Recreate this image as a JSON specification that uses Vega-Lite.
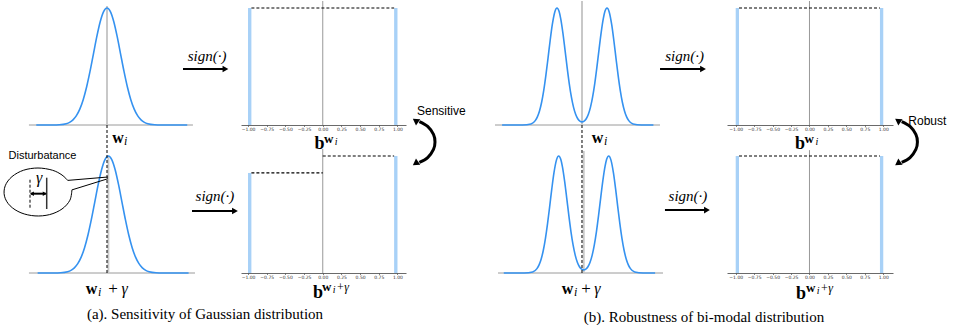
{
"$schema": "https://vega.github.io/schema/vega-lite/v6.json",
"padding": 0,
"autosize": {"type": "pad"},
"background": "white",
"config": {"view": {"stroke": null}, "axis": {"labelFontSize": 4.5, "labelFont": "DejaVu Sans", "labelColor": "#333", "tickSize": 1.5, "tickWidth": 0.6, "tickColor": "#333", "domainColor": "#444", "domainWidth": 0.8, "labelPadding": 0, "grid": false, "labelFlush": false, "labelOverlap": false}},
"datasets": {
"gauss": [{"x":-5.2,"y":0},{"x":-4.5,"y":0.00004},{"x":-4,"y":0.0003},{"x":-3.5,"y":0.0022},{"x":-3,"y":0.0111},{"x":-2.75,"y":0.0228},{"x":-2.5,"y":0.0439},{"x":-2.25,"y":0.0796},{"x":-2,"y":0.1353},{"x":-1.75,"y":0.2163},{"x":-1.5,"y":0.3247},{"x":-1.25,"y":0.4578},{"x":-1,"y":0.6065},{"x":-0.75,"y":0.7548},{"x":-0.5,"y":0.8825},{"x":-0.25,"y":0.9692},{"x":0,"y":1},{"x":0.25,"y":0.9692},{"x":0.5,"y":0.8825},{"x":0.75,"y":0.7548},{"x":1,"y":0.6065},{"x":1.25,"y":0.4578},{"x":1.5,"y":0.3247},{"x":1.75,"y":0.2163},{"x":2,"y":0.1353},{"x":2.25,"y":0.0796},{"x":2.5,"y":0.0439},{"x":2.75,"y":0.0228},{"x":3,"y":0.0111},{"x":3.5,"y":0.0022},{"x":4,"y":0.0003},{"x":4.5,"y":0.00004},{"x":5.2,"y":0},{"x":5.9,"y":0}],
"bimodal": [{"x":-9.4,"y":0},{"x":-8,"y":0},{"x":-7,"y":0.0003},{"x":-6,"y":0.0093},{"x":-5.5,"y":0.0377},{"x":-5.25,"y":0.0694},{"x":-5,"y":0.1198},{"x":-4.75,"y":0.1944},{"x":-4.5,"y":0.2962},{"x":-4.25,"y":0.424},{"x":-4,"y":0.5702},{"x":-3.75,"y":0.7204},{"x":-3.5,"y":0.8549},{"x":-3.2,"y":0.9668},{"x":-2.94,"y":1},{"x":-2.7,"y":0.9716},{"x":-2.5,"y":0.9077},{"x":-2.25,"y":0.788},{"x":-2,"y":0.6429},{"x":-1.75,"y":0.4926},{"x":-1.5,"y":0.3546},{"x":-1.25,"y":0.2398},{"x":-1,"y":0.1527},{"x":-0.75,"y":0.092},{"x":-0.5,"y":0.0536},{"x":-0.25,"y":0.033},{"x":0,"y":0.0266},{"x":0.25,"y":0.033},{"x":0.5,"y":0.0536},{"x":0.75,"y":0.092},{"x":1,"y":0.1527},{"x":1.25,"y":0.2398},{"x":1.5,"y":0.3546},{"x":1.75,"y":0.4926},{"x":2,"y":0.6429},{"x":2.25,"y":0.788},{"x":2.5,"y":0.9077},{"x":2.7,"y":0.9716},{"x":2.94,"y":1},{"x":3.2,"y":0.9668},{"x":3.5,"y":0.8549},{"x":3.75,"y":0.7204},{"x":4,"y":0.5702},{"x":4.25,"y":0.424},{"x":4.5,"y":0.2962},{"x":4.75,"y":0.1944},{"x":5,"y":0.1198},{"x":5.25,"y":0.0694},{"x":5.5,"y":0.0377},{"x":6,"y":0.0093},{"x":7,"y":0.0003},{"x":8,"y":0},{"x":8.4,"y":0}]
},
"columns": 4,
"align": "each",
"bounds": "flush",
"spacing": {"row": 4, "column": 0},
"concat": [
{"width": 241, "height": 124,
 "encoding": {"x": {"field":"x","type":"quantitative","scale":{"domain":[-7.868,9.853],"nice":false,"zero":false},"axis":null},
              "y": {"field":"y","type":"quantitative","scale":{"domain":[0,1.06],"nice":false,"zero":false},"axis":null}},
 "layer": [
  {"data":{"values":[{"x":-5.74,"y":0,"x2":6.32,"y2":0}]},"mark":{"type":"rule","color":"#9a9a9a","strokeWidth":1},"encoding":{"x2":{"field":"x2"},"y2":{"field":"y2"}}},
  {"data":{"values":[{"x":0,"y":0,"x2":0,"y2":1.017}]},"mark":{"type":"rule","color":"#c8c8c8","strokeWidth":2},"encoding":{"x2":{"field":"x2"},"y2":{"field":"y2"}}},
  {"data":{"name":"gauss"},"mark":{"type":"line","color":"#3592f0","strokeWidth":1.6,"interpolate":"monotone"}},
  {"data":{"values":[{"x":0,"y":0,"x2":0,"y2":-0.205}]},"mark":{"type":"rule","color":"#000","strokeWidth":1,"strokeDash":[3,2]},"encoding":{"x2":{"field":"x2"},"y2":{"field":"y2"}}},
  {"data":{"values":[{"x":5.588,"y":0.4786,"x2":8.71,"y2":0.4786}]},"mark":{"type":"rule","color":"#000","strokeWidth":2},"encoding":{"x2":{"field":"x2"},"y2":{"field":"y2"}}},
  {"data":{"values":[{"x":8.71,"y":0.4786}]},"mark":{"type":"point","shape":"triangle-right","filled":true,"color":"#000","size":45,"opacity":1}},
  {"data":{"values":[{"x":7.353,"y":0.547,"t":"sign(·)"}]},"mark":{"type":"text","font":"Liberation Serif","fontStyle":"italic","fontSize":15,"align":"center","baseline":"alphabetic","color":"#000"},"encoding":{"text":{"field":"t"}}},
  {"data":{"values":[{"x":0.81,"y":-0.154,"t":"w"}]},"mark":{"type":"text","font":"Liberation Serif","fontWeight":"bold","fontSize":16,"align":"center","baseline":"alphabetic","color":"#000"},"encoding":{"text":{"field":"t"}}},
  {"data":{"values":[{"x":1.25,"y":-0.175,"t":"i"}]},"mark":{"type":"text","font":"Liberation Serif","fontStyle":"italic","fontSize":12,"align":"left","baseline":"alphabetic","color":"#000"},"encoding":{"text":{"field":"t"}}}
 ]},
{"width": 165, "height": 124,
 "encoding": {"x": {"field":"x","type":"quantitative","scale":{"domain":[-1.094,1.114],"nice":false,"zero":false},
                    "axis":{"values":[-1,-0.75,-0.5,-0.25,0,0.25,0.5,0.75,1],"labelExpr":"replace(format(datum.value,'.2f'),'-','−')","title":null}},
              "y": {"field":"y","type":"quantitative","scale":{"domain":[0,1.06],"nice":false,"zero":false},"axis":null}},
 "layer": [
  {"data":{"values":[{"x":-1,"x2":-0.955,"y":1,"y2":0},{"x":0.955,"x2":1,"y":1,"y2":0}]},"mark":{"type":"rect","color":"#a8d1f7"},"encoding":{"x2":{"field":"x2"},"y2":{"field":"y2"}}},
  {"data":{"values":[{"x":0,"y":0,"x2":0,"y2":1.06}]},"mark":{"type":"rule","color":"#999","strokeWidth":1},"encoding":{"x2":{"field":"x2"},"y2":{"field":"y2"}}},
  {"data":{"values":[{"x":-0.955,"y":1,"x2":0.955,"y2":1}]},"mark":{"type":"rule","color":"#000","strokeWidth":1.2,"strokeDash":[3,2]},"encoding":{"x2":{"field":"x2"},"y2":{"field":"y2"}}},
  {"data":{"values":[{"x":1.293,"y":0.029,"o":1},{"x":1.404,"y":-0.012,"o":2},{"x":1.482,"y":-0.081,"o":3},{"x":1.502,"y":-0.145,"o":4},{"x":1.482,"y":-0.209,"o":5},{"x":1.404,"y":-0.279,"o":6},{"x":1.293,"y":-0.32,"o":7}]},"mark":{"type":"line","color":"#000","strokeWidth":3,"interpolate":"cardinal"},"encoding":{"order":{"field":"o","type":"quantitative"}}},
  {"data":{"values":[{"x":1.241,"y":0.038}]},"mark":{"type":"point","shape":"triangle-left","angle":35,"filled":true,"color":"#000","size":55,"opacity":1}},
  {"data":{"values":[{"x":1.241,"y":-0.329}]},"mark":{"type":"point","shape":"triangle-left","angle":-35,"filled":true,"color":"#000","size":55,"opacity":1}},
  {"data":{"values":[{"x":1.261,"y":0.085,"t":"Sensitive"}]},"mark":{"type":"text","font":"Liberation Sans","fontSize":12,"align":"left","baseline":"alphabetic","color":"#000"},"encoding":{"text":{"field":"t"}}},
  {"data":{"values":[{"x":-0.043,"y":-0.207,"t":"b"}]},"mark":{"type":"text","font":"Liberation Serif","fontWeight":"bold","fontSize":18,"align":"center","baseline":"alphabetic","color":"#000"},"encoding":{"text":{"field":"t"}}},
  {"data":{"values":[{"x":0.017,"y":-0.153,"t":"w"}]},"mark":{"type":"text","font":"Liberation Serif","fontWeight":"bold","fontSize":13,"align":"left","baseline":"alphabetic","color":"#000"},"encoding":{"text":{"field":"t"}}},
  {"data":{"values":[{"x":0.16,"y":-0.167,"t":"i"}]},"mark":{"type":"text","font":"Liberation Serif","fontStyle":"italic","fontSize":10,"align":"left","baseline":"alphabetic","color":"#000"},"encoding":{"text":{"field":"t"}}}
 ]},
{"width": 321, "height": 124,
 "encoding": {"x": {"field":"x","type":"quantitative","scale":{"domain":[-20.706,17.059],"nice":false,"zero":false},"axis":null},
              "y": {"field":"y","type":"quantitative","scale":{"domain":[0,1.06],"nice":false,"zero":false},"axis":null}},
 "layer": [
  {"data":{"values":[{"x":-10.235,"y":0,"x2":9.176,"y2":0}]},"mark":{"type":"rule","color":"#9a9a9a","strokeWidth":1},"encoding":{"x2":{"field":"x2"},"y2":{"field":"y2"}}},
  {"data":{"values":[{"x":0,"y":0,"x2":0,"y2":1.06}]},"mark":{"type":"rule","color":"#c8c8c8","strokeWidth":2},"encoding":{"x2":{"field":"x2"},"y2":{"field":"y2"}}},
  {"data":{"name":"bimodal"},"mark":{"type":"line","color":"#3592f0","strokeWidth":1.6,"interpolate":"monotone"}},
  {"data":{"values":[{"x":0,"y":0,"x2":0,"y2":-0.205}]},"mark":{"type":"rule","color":"#000","strokeWidth":1,"strokeDash":[3,2]},"encoding":{"x2":{"field":"x2"},"y2":{"field":"y2"}}},
  {"data":{"values":[{"x":9.18,"y":0.4786,"x2":14.24,"y2":0.4786}]},"mark":{"type":"rule","color":"#000","strokeWidth":2},"encoding":{"x2":{"field":"x2"},"y2":{"field":"y2"}}},
  {"data":{"values":[{"x":14.24,"y":0.4786}]},"mark":{"type":"point","shape":"triangle-right","filled":true,"color":"#000","size":45,"opacity":1}},
  {"data":{"values":[{"x":12.06,"y":0.547,"t":"sign(·)"}]},"mark":{"type":"text","font":"Liberation Serif","fontStyle":"italic","fontSize":15,"align":"center","baseline":"alphabetic","color":"#000"},"encoding":{"text":{"field":"t"}}},
  {"data":{"values":[{"x":1.82,"y":-0.154,"t":"w"}]},"mark":{"type":"text","font":"Liberation Serif","fontWeight":"bold","fontSize":16,"align":"center","baseline":"alphabetic","color":"#000"},"encoding":{"text":{"field":"t"}}},
  {"data":{"values":[{"x":2.59,"y":-0.175,"t":"i"}]},"mark":{"type":"text","font":"Liberation Serif","fontStyle":"italic","fontSize":12,"align":"left","baseline":"alphabetic","color":"#000"},"encoding":{"text":{"field":"t"}}}
 ]},
{"width": 166, "height": 124,
 "encoding": {"x": {"field":"x","type":"quantitative","scale":{"domain":[-1.118,1.132],"nice":false,"zero":false},
                    "axis":{"values":[-1,-0.75,-0.5,-0.25,0,0.25,0.5,0.75,1],"labelExpr":"replace(format(datum.value,'.2f'),'-','−')","title":null}},
              "y": {"field":"y","type":"quantitative","scale":{"domain":[0,1.06],"nice":false,"zero":false},"axis":null}},
 "layer": [
  {"data":{"values":[{"x":-1,"x2":-0.955,"y":1,"y2":0},{"x":0.955,"x2":1,"y":1,"y2":0}]},"mark":{"type":"rect","color":"#a8d1f7"},"encoding":{"x2":{"field":"x2"},"y2":{"field":"y2"}}},
  {"data":{"values":[{"x":0,"y":0,"x2":0,"y2":1.06}]},"mark":{"type":"rule","color":"#999","strokeWidth":1},"encoding":{"x2":{"field":"x2"},"y2":{"field":"y2"}}},
  {"data":{"values":[{"x":-0.955,"y":1,"x2":0.955,"y2":1}]},"mark":{"type":"rule","color":"#000","strokeWidth":1.2,"strokeDash":[3,2]},"encoding":{"x2":{"field":"x2"},"y2":{"field":"y2"}}},
  {"data":{"values":[{"x":1.25,"y":0.029,"o":1},{"x":1.363,"y":-0.012,"o":2},{"x":1.442,"y":-0.081,"o":3},{"x":1.463,"y":-0.145,"o":4},{"x":1.442,"y":-0.209,"o":5},{"x":1.363,"y":-0.279,"o":6},{"x":1.25,"y":-0.32,"o":7}]},"mark":{"type":"line","color":"#000","strokeWidth":3,"interpolate":"cardinal"},"encoding":{"order":{"field":"o","type":"quantitative"}}},
  {"data":{"values":[{"x":1.197,"y":0.038}]},"mark":{"type":"point","shape":"triangle-left","angle":35,"filled":true,"color":"#000","size":55,"opacity":1}},
  {"data":{"values":[{"x":1.197,"y":-0.329}]},"mark":{"type":"point","shape":"triangle-left","angle":-35,"filled":true,"color":"#000","size":55,"opacity":1}},
  {"data":{"values":[{"x":1.34,"y":0.0,"t":"Robust"}]},"mark":{"type":"text","font":"Liberation Sans","fontSize":12,"align":"left","baseline":"alphabetic","color":"#000"},"encoding":{"text":{"field":"t"}}},
  {"data":{"values":[{"x":-0.129,"y":-0.207,"t":"b"}]},"mark":{"type":"text","font":"Liberation Serif","fontWeight":"bold","fontSize":18,"align":"center","baseline":"alphabetic","color":"#000"},"encoding":{"text":{"field":"t"}}},
  {"data":{"values":[{"x":-0.068,"y":-0.153,"t":"w"}]},"mark":{"type":"text","font":"Liberation Serif","fontWeight":"bold","fontSize":13,"align":"left","baseline":"alphabetic","color":"#000"},"encoding":{"text":{"field":"t"}}},
  {"data":{"values":[{"x":0.08,"y":-0.167,"t":"i"}]},"mark":{"type":"text","font":"Liberation Serif","fontStyle":"italic","fontSize":10,"align":"left","baseline":"alphabetic","color":"#000"},"encoding":{"text":{"field":"t"}}}
 ]},
{"width": 241, "height": 144,
 "encoding": {"x": {"field":"x","type":"quantitative","scale":{"domain":[-7.968,9.753],"nice":false,"zero":false},"axis":null},
              "y": {"field":"y","type":"quantitative","scale":{"domain":[0,1.2308],"nice":false,"zero":false},"axis":null}},
 "layer": [
  {"data":{"values":[{"x":-5.84,"y":0,"x2":6.37,"y2":0}]},"mark":{"type":"rule","color":"#9a9a9a","strokeWidth":1},"encoding":{"x2":{"field":"x2"},"y2":{"field":"y2"}}},
  {"data":{"values":[{"x":0,"y":0,"x2":0,"y2":1.0}]},"mark":{"type":"rule","color":"#c8c8c8","strokeWidth":2},"encoding":{"x2":{"field":"x2"},"y2":{"field":"y2"}}},
  {"data":{"name":"gauss"},"mark":{"type":"line","color":"#3592f0","strokeWidth":1.6,"interpolate":"monotone"}},
  {"data":{"values":[{"x":-0.1,"y":0,"x2":-0.1,"y2":1.06},{"x":-5.762,"y":0.558,"x2":-5.762,"y2":0.8145}]},"mark":{"type":"rule","color":"#000","strokeWidth":1,"strokeDash":[3,2]},"encoding":{"x2":{"field":"x2"},"y2":{"field":"y2"}}},
  {"data":{"values":[{"o":1,"x":-2.681,"y":0.7103},{"o":2,"x":-2.828,"y":0.6222},{"o":3,"x":-3.409,"y":0.547},{"o":4,"x":-4.321,"y":0.4991},{"o":5,"x":-5.394,"y":0.488},{"o":6,"x":-6.424,"y":0.5145},{"o":7,"x":-7.225,"y":0.5744},{"o":8,"x":-7.637,"y":0.6564},{"o":9,"x":-7.585,"y":0.7453},{"o":10,"x":-7.085,"y":0.8239},{"o":11,"x":-6.232,"y":0.8786},{"o":12,"x":-5.174,"y":0.8974},{"o":13,"x":-4.115,"y":0.8786},{"o":14,"x":-3.409,"y":0.8376},{"o":15,"x":-2.99,"y":0.7915}]},"mark":{"type":"line","color":"#000","strokeWidth":1,"interpolate":"cardinal"},"encoding":{"order":{"field":"o","type":"quantitative"}}},
  {"data":{"values":[{"x":-2.99,"y":0.7915,"x2":-0.03,"y2":0.8205},{"x":-2.681,"y":0.7103,"x2":-0.03,"y2":0.806}]},"mark":{"type":"rule","color":"#000","strokeWidth":1},"encoding":{"x2":{"field":"x2"},"y2":{"field":"y2"}}},
  {"data":{"values":[{"x":-4.534,"y":0.547,"x2":-4.534,"y2":0.8145}]},"mark":{"type":"rule","color":"#333","strokeWidth":1.5},"encoding":{"x2":{"field":"x2"},"y2":{"field":"y2"}}},
  {"data":{"values":[{"x":-5.7,"y":0.678,"x2":-4.6,"y2":0.678},{"x":6.15,"y":0.53,"x2":9.31,"y2":0.53}]},"mark":{"type":"rule","color":"#000","strokeWidth":2},"encoding":{"x2":{"field":"x2"},"y2":{"field":"y2"}}},
  {"data":{"values":[{"x":-5.62,"y":0.678}]},"mark":{"type":"point","shape":"triangle-left","filled":true,"color":"#000","size":20,"opacity":1}},
  {"data":{"values":[{"x":-4.68,"y":0.678}]},"mark":{"type":"point","shape":"triangle-right","filled":true,"color":"#000","size":20,"opacity":1}},
  {"data":{"values":[{"x":9.31,"y":0.53}]},"mark":{"type":"point","shape":"triangle-right","filled":true,"color":"#000","size":45,"opacity":1}},
  {"data":{"values":[{"x":7.84,"y":0.615,"t":"sign(·)"}]},"mark":{"type":"text","font":"Liberation Serif","fontStyle":"italic","fontSize":15,"align":"center","baseline":"alphabetic","color":"#000"},"encoding":{"text":{"field":"t"}}},
  {"data":{"values":[{"x":-5.08,"y":0.769,"t":"γ"},{"x":1.2,"y":-0.179,"t":"γ"}]},"mark":{"type":"text","font":"Liberation Serif","fontStyle":"italic","fontSize":16,"align":"center","baseline":"alphabetic","color":"#000"},"encoding":{"text":{"field":"t"}}},
  {"data":{"values":[{"x":-4.843,"y":0.974,"t":"Disturbatance"}]},"mark":{"type":"text","font":"Liberation Sans","fontSize":11,"align":"center","baseline":"alphabetic","color":"#000"},"encoding":{"text":{"field":"t"}}},
  {"data":{"values":[{"x":-1.24,"y":-0.179,"t":"w"}]},"mark":{"type":"text","font":"Liberation Serif","fontWeight":"bold","fontSize":16,"align":"center","baseline":"alphabetic","color":"#000"},"encoding":{"text":{"field":"t"}}},
  {"data":{"values":[{"x":-0.76,"y":-0.197,"t":"i"}]},"mark":{"type":"text","font":"Liberation Serif","fontStyle":"italic","fontSize":12,"align":"left","baseline":"alphabetic","color":"#000"},"encoding":{"text":{"field":"t"}}},
  {"data":{"values":[{"x":0.341,"y":-0.179,"t":"+"}]},"mark":{"type":"text","font":"Liberation Serif","fontSize":17,"align":"center","baseline":"alphabetic","color":"#000"},"encoding":{"text":{"field":"t"}}},
  {"data":{"values":[{"x":7.106,"y":-0.397,"t":"(a). Sensitivity of Gaussian distribution"}]},"mark":{"type":"text","font":"Liberation Serif","fontSize":15,"align":"center","baseline":"alphabetic","color":"#000"},"encoding":{"text":{"field":"t"}}}
 ]},
{"width": 165, "height": 144,
 "encoding": {"x": {"field":"x","type":"quantitative","scale":{"domain":[-1.094,1.114],"nice":false,"zero":false},
                    "axis":{"values":[-1,-0.75,-0.5,-0.25,0,0.25,0.5,0.75,1],"labelExpr":"replace(format(datum.value,'.2f'),'-','−')","title":null}},
              "y": {"field":"y","type":"quantitative","scale":{"domain":[0,1.2308],"nice":false,"zero":false},"axis":null}},
 "layer": [
  {"data":{"values":[{"x":-1,"x2":-0.955,"y":0.855,"y2":0},{"x":0.955,"x2":1,"y":1,"y2":0}]},"mark":{"type":"rect","color":"#a8d1f7"},"encoding":{"x2":{"field":"x2"},"y2":{"field":"y2"}}},
  {"data":{"values":[{"x":0,"y":0,"x2":0,"y2":1.06}]},"mark":{"type":"rule","color":"#999","strokeWidth":1},"encoding":{"x2":{"field":"x2"},"y2":{"field":"y2"}}},
  {"data":{"values":[{"x":-0.955,"y":0.855,"x2":0,"y2":0.855},{"x":0,"y":1,"x2":0.955,"y2":1}]},"mark":{"type":"rule","color":"#000","strokeWidth":1.2,"strokeDash":[3,2]},"encoding":{"x2":{"field":"x2"},"y2":{"field":"y2"}}},
  {"data":{"values":[{"x":-0.064,"y":-0.215,"t":"b"}]},"mark":{"type":"text","font":"Liberation Serif","fontWeight":"bold","fontSize":18,"align":"center","baseline":"alphabetic","color":"#000"},"encoding":{"text":{"field":"t"}}},
  {"data":{"values":[{"x":-0.01,"y":-0.158,"t":"w"}]},"mark":{"type":"text","font":"Liberation Serif","fontWeight":"bold","fontSize":13,"align":"left","baseline":"alphabetic","color":"#000"},"encoding":{"text":{"field":"t"}}},
  {"data":{"values":[{"x":0.134,"y":-0.172,"t":"i"}]},"mark":{"type":"text","font":"Liberation Serif","fontStyle":"italic","fontSize":10,"align":"left","baseline":"alphabetic","color":"#000"},"encoding":{"text":{"field":"t"}}},
  {"data":{"values":[{"x":0.18,"y":-0.158,"t":"+γ"}]},"mark":{"type":"text","font":"Liberation Serif","fontStyle":"italic","fontSize":12,"align":"left","baseline":"alphabetic","color":"#000"},"encoding":{"text":{"field":"t"}}}
 ]},
{"width": 321, "height": 144,
 "encoding": {"x": {"field":"x","type":"quantitative","scale":{"domain":[-20.906,16.859],"nice":false,"zero":false},"axis":null},
              "y": {"field":"y","type":"quantitative","scale":{"domain":[0,1.2308],"nice":false,"zero":false},"axis":null}},
 "layer": [
  {"data":{"values":[{"x":-10.08,"y":0,"x2":9.33,"y2":0}]},"mark":{"type":"rule","color":"#9a9a9a","strokeWidth":1},"encoding":{"x2":{"field":"x2"},"y2":{"field":"y2"}}},
  {"data":{"values":[{"x":0,"y":0,"x2":0,"y2":1.043}]},"mark":{"type":"rule","color":"#c8c8c8","strokeWidth":2},"encoding":{"x2":{"field":"x2"},"y2":{"field":"y2"}}},
  {"data":{"name":"bimodal"},"mark":{"type":"line","color":"#3592f0","strokeWidth":1.6,"interpolate":"monotone"}},
  {"data":{"values":[{"x":-0.2,"y":0,"x2":-0.2,"y2":1.06}]},"mark":{"type":"rule","color":"#000","strokeWidth":1,"strokeDash":[3,2]},"encoding":{"x2":{"field":"x2"},"y2":{"field":"y2"}}},
  {"data":{"values":[{"x":9.56,"y":0.538,"x2":14.5,"y2":0.538}]},"mark":{"type":"rule","color":"#000","strokeWidth":2},"encoding":{"x2":{"field":"x2"},"y2":{"field":"y2"}}},
  {"data":{"values":[{"x":14.5,"y":0.538}]},"mark":{"type":"point","shape":"triangle-right","filled":true,"color":"#000","size":45,"opacity":1}},
  {"data":{"values":[{"x":12.27,"y":0.615,"t":"sign(·)"}]},"mark":{"type":"text","font":"Liberation Serif","fontStyle":"italic","fontSize":15,"align":"center","baseline":"alphabetic","color":"#000"},"encoding":{"text":{"field":"t"}}},
  {"data":{"values":[{"x":-1.906,"y":-0.18,"t":"w"}]},"mark":{"type":"text","font":"Liberation Serif","fontWeight":"bold","fontSize":16,"align":"center","baseline":"alphabetic","color":"#000"},"encoding":{"text":{"field":"t"}}},
  {"data":{"values":[{"x":-1.14,"y":-0.198,"t":"i"}]},"mark":{"type":"text","font":"Liberation Serif","fontStyle":"italic","fontSize":12,"align":"left","baseline":"alphabetic","color":"#000"},"encoding":{"text":{"field":"t"}}},
  {"data":{"values":[{"x":0.27,"y":-0.18,"t":"+"}]},"mark":{"type":"text","font":"Liberation Serif","fontSize":17,"align":"center","baseline":"alphabetic","color":"#000"},"encoding":{"text":{"field":"t"}}},
  {"data":{"values":[{"x":1.6,"y":-0.18,"t":"γ"}]},"mark":{"type":"text","font":"Liberation Serif","fontStyle":"italic","fontSize":16,"align":"center","baseline":"alphabetic","color":"#000"},"encoding":{"text":{"field":"t"}}},
  {"data":{"values":[{"x":14.15,"y":-0.415,"t":"(b). Robustness of bi-modal distribution"}]},"mark":{"type":"text","font":"Liberation Serif","fontSize":15,"align":"center","baseline":"alphabetic","color":"#000"},"encoding":{"text":{"field":"t"}}}
 ]},
{"width": 166, "height": 144,
 "encoding": {"x": {"field":"x","type":"quantitative","scale":{"domain":[-1.118,1.132],"nice":false,"zero":false},
                    "axis":{"values":[-1,-0.75,-0.5,-0.25,0,0.25,0.5,0.75,1],"labelExpr":"replace(format(datum.value,'.2f'),'-','−')","title":null}},
              "y": {"field":"y","type":"quantitative","scale":{"domain":[0,1.2308],"nice":false,"zero":false},"axis":null}},
 "layer": [
  {"data":{"values":[{"x":-1,"x2":-0.955,"y":1,"y2":0},{"x":0.955,"x2":1,"y":1,"y2":0}]},"mark":{"type":"rect","color":"#a8d1f7"},"encoding":{"x2":{"field":"x2"},"y2":{"field":"y2"}}},
  {"data":{"values":[{"x":0,"y":0,"x2":0,"y2":1.05}]},"mark":{"type":"rule","color":"#999","strokeWidth":1},"encoding":{"x2":{"field":"x2"},"y2":{"field":"y2"}}},
  {"data":{"values":[{"x":-0.955,"y":1,"x2":0.955,"y2":1}]},"mark":{"type":"rule","color":"#000","strokeWidth":1.2,"strokeDash":[3,2]},"encoding":{"x2":{"field":"x2"},"y2":{"field":"y2"}}},
  {"data":{"values":[{"x":-0.116,"y":-0.222,"t":"b"}]},"mark":{"type":"text","font":"Liberation Serif","fontWeight":"bold","fontSize":18,"align":"center","baseline":"alphabetic","color":"#000"},"encoding":{"text":{"field":"t"}}},
  {"data":{"values":[{"x":-0.048,"y":-0.165,"t":"w"}]},"mark":{"type":"text","font":"Liberation Serif","fontWeight":"bold","fontSize":13,"align":"left","baseline":"alphabetic","color":"#000"},"encoding":{"text":{"field":"t"}}},
  {"data":{"values":[{"x":0.1,"y":-0.179,"t":"i"}]},"mark":{"type":"text","font":"Liberation Serif","fontStyle":"italic","fontSize":10,"align":"left","baseline":"alphabetic","color":"#000"},"encoding":{"text":{"field":"t"}}},
  {"data":{"values":[{"x":0.146,"y":-0.165,"t":"+γ"}]},"mark":{"type":"text","font":"Liberation Serif","fontStyle":"italic","fontSize":12,"align":"left","baseline":"alphabetic","color":"#000"},"encoding":{"text":{"field":"t"}}}
 ]}
]
}
